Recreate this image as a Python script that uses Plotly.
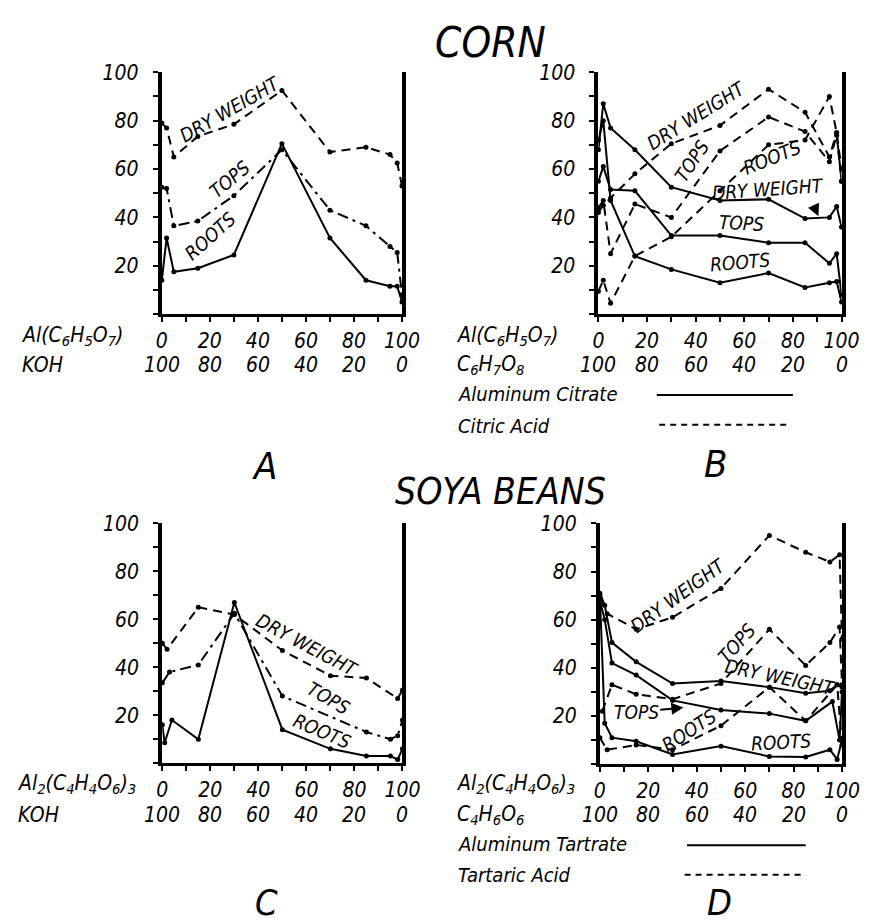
import plotly.graph_objects as go

FONT = "DejaVu Sans Condensed, DejaVu Sans, sans-serif"
W, H = 870, 923

# ---------------- data ----------------
# Panel A  (Corn, Al citrate / KOH)
A_x = [0, 2, 5, 15, 30, 50, 70, 85, 95, 98, 100]
A_dry = [79, 77, 65, 73.5, 78.5, 92.5, 67, 69, 66, 62.5, 53]
A_tops = [52.5, 52, 36.5, 38.5, 49, 68, 43, 36.5, 28, 25.5, 8]
A_roots = [14, 31.5, 17.5, 19, 24.5, 70.5, 31.5, 14, 11.5, 11.5, 5]

# Panel B  (Corn, Al citrate / citric acid)
B_x = [0, 2, 5, 15, 30, 50, 70, 85, 95, 98, 100]
B_sol_dry = [68, 87, 77, 68, 52.5, 47, 47.5, 39.5, 40, 44.5, 36]
B_sol_tops = [55, 61, 51.5, 51, 32.5, 32.5, 29.5, 29.5, 21, 25, 8]
B_sol_roots = [72, 80, 47, 24, 18.5, 13, 17, 11, 13, 13.5, 5]
B_acid_dry = [42, 45, 48, 58, 70.5, 78, 93, 83.5, 65, 75, 55]
B_acid_tops = [44, 47, 25, 45.5, 40, 67.5, 81.5, 75.5, 63, 74, 55]
B_acid_roots = [9.5, 14, 4.5, 24, 32, 51, 70, 72, 90, 75, 60]

# Panel C  (Soya beans, Al tartrate / KOH)
C_dry_x = [0, 2, 15, 30, 50, 70, 85, 98, 100]
C_dry = [50, 47.5, 65, 62, 47, 36.5, 35.5, 27, 30.5]
C_tops_x = [0, 3, 15, 30, 50, 85, 95, 98, 100]
C_tops = [33.5, 38, 41, 62.5, 28, 13, 10, 11.5, 18]
C_roots_x = [0, 1, 4, 15, 30, 50, 70, 85, 95, 98, 100]
C_roots = [16, 8.5, 18, 10, 67, 14, 6, 3, 3, 1.5, 6]

# Panel D  (Soya beans, Al tartrate / tartaric acid)
D_sol_dry_x = [0, 2, 5, 15, 30, 50, 70, 85, 95, 98, 100]
D_sol_dry = [71, 66, 50.5, 42.5, 33.5, 34.5, 32, 29.5, 30.5, 33, 32]
D_sol_tops_x = [0, 2, 5, 15, 30, 50, 70, 85, 96, 99, 100]
D_sol_tops = [68, 60, 42, 37, 26.5, 22.5, 21, 18, 26, 10, 30]
D_sol_roots_x = [0, 2, 5, 15, 30, 50, 70, 85, 95, 98, 100]
D_sol_roots = [70, 17, 11, 9.5, 4, 7.5, 3.2, 3, 6, 2, 10]
D_acid_dry_x = [0, 3, 15, 30, 50, 70, 85, 95, 99, 100]
D_acid_dry = [69, 62.5, 56, 61, 73, 95, 88, 84, 87, 52]
D_acid_tops_x = [1, 5, 15, 30, 50, 70, 85, 95, 99, 100]
D_acid_tops = [22, 33, 29, 27, 33.5, 56, 41, 50.5, 57, 33]
D_acid_roots_x = [0, 3, 15, 30, 50, 70, 85, 98, 100]
D_acid_roots = [11, 6, 8, 6, 16, 32, 18, 33, 8]

# tick labels
tick_vals = [0, 20, 40, 60, 80, 100]
row1_labels = ["0", "20", "40", "60", "80", "100"]
row2_labels = ["100", "80", "60", "40", "20", "0"]
y_tick_vals = list(range(0, 101, 10))
y_tick_text = ["", "", "20", "", "40", "", "60", "", "80", "", "100"]

# ---------------- figure ----------------
fig = go.Figure()

SOLID = "solid"
DASH = "9px,6px"
DASHDOT = "11px,5px,3px,5px"


def add_line(xs, ys, ax, dash):
    n = "" if ax == 1 else str(ax)
    fig.add_trace(go.Scatter(
        x=xs, y=ys, xaxis="x" + n, yaxis="y" + n, mode="lines+markers",
        line=dict(color="black", width=2, dash=dash),
        marker=dict(color="black", size=5), cliponaxis=False,
        hoverinfo="skip", showlegend=False))


add_line(A_x, A_dry, 1, DASH)
add_line(A_x, A_tops, 1, DASHDOT)
add_line(A_x, A_roots, 1, SOLID)

add_line(B_x, B_sol_dry, 2, SOLID)
add_line(B_x, B_sol_tops, 2, SOLID)
add_line(B_x, B_sol_roots, 2, SOLID)
add_line(B_x, B_acid_dry, 2, DASH)
add_line(B_x, B_acid_tops, 2, DASH)
add_line(B_x, B_acid_roots, 2, DASH)

add_line(C_dry_x, C_dry, 3, DASH)
add_line(C_tops_x, C_tops, 3, DASHDOT)
add_line(C_roots_x, C_roots, 3, SOLID)

add_line(D_sol_dry_x, D_sol_dry, 4, SOLID)
add_line(D_sol_tops_x, D_sol_tops, 4, SOLID)
add_line(D_sol_roots_x, D_sol_roots, 4, SOLID)
add_line(D_acid_dry_x, D_acid_dry, 4, DASH)
add_line(D_acid_tops_x, D_acid_tops, 4, DASH)
add_line(D_acid_roots_x, D_acid_roots, 4, DASH)

tickfont = dict(family=FONT, size=21, color="black", style="italic")


def xaxis(x0, x1, anchor):
    return dict(domain=[x0 / W, x1 / W], anchor=anchor, range=[0, 100],
                tickmode="array", tickvals=tick_vals, ticktext=row1_labels,
                minor=dict(tickmode="array", tickvals=list(range(10, 100, 20)),
                           ticks="outside", ticklen=5, tickwidth=2, tickcolor="black"),
                ticks="outside", ticklen=5, tickwidth=2, tickcolor="black",
                showline=True, linewidth=3, linecolor="black",
                showgrid=False, zeroline=False, tickfont=tickfont,
                ticklabelstandoff=1, fixedrange=True)


def yaxis(ytop, ybot, anchor):
    return dict(domain=[1 - ybot / H, 1 - ytop / H], anchor=anchor, range=[0, 100],
                tickmode="array", tickvals=y_tick_vals, ticktext=y_tick_text,
                ticks="outside", ticklen=5, tickwidth=2, tickcolor="black",
                showline=True, linewidth=4, linecolor="black", mirror=True,
                showgrid=False, zeroline=False, tickfont=tickfont,
                ticklabelstandoff=10, fixedrange=True)


fig.update_layout(
    width=W, height=H, margin=dict(l=0, r=0, t=0, b=0),
    paper_bgcolor="white", plot_bgcolor="white", showlegend=False,
    xaxis=xaxis(152, 399, "y"), yaxis=yaxis(53, 298, "x"),
    xaxis2=xaxis(601, 851, "y2"), yaxis2=yaxis(53, 298, "x2"),
    xaxis3=xaxis(152.5, 399.5, "y3"), yaxis3=yaxis(510, 753, "x3"),
    xaxis4=xaxis(602.5, 851.5, "y4"), yaxis4=yaxis(510, 754, "x4"),
)

ann = []


def txt(text, x, y, size, xref="paper", yref="paper", angle=0, xanchor="center"):
    if xref == "paper":
        x = x / W
    if yref == "paper":
        y = 1 - y / H
    ann.append(dict(text=text, x=x, y=y, xref=xref, yref=yref, showarrow=False,
                    textangle=angle, xanchor=xanchor, yanchor="middle",
                    font=dict(family=FONT, size=size, color="black", style="italic")))


# titles & panel letters
txt("CORN", 490, 23, 42)
txt("SOYA BEANS", 500, 478, 37)
txt("A", 258, 452, 38)
txt("B", 721, 450, 38)
txt("C", 260, 894, 36)
txt("D", 725, 894, 36)

# row labels
AL_CIT = "Al(C<sub>6</sub>H<sub>5</sub>O<sub>7</sub>)"
AL_TAR = "Al<sub>2</sub>(C<sub>4</sub>H<sub>4</sub>O<sub>6</sub>)<sub>3</sub>"
txt(AL_CIT, 6, 320, 21, xanchor="left")
txt("KOH", 6, 350, 21, xanchor="left")
txt(AL_CIT, 453, 320, 21, xanchor="left")
txt("C<sub>6</sub>H<sub>7</sub>O<sub>8</sub>", 453, 350, 21, xanchor="left")
txt(AL_TAR, 2, 774, 21, xanchor="left")
txt("KOH", 2, 805, 21, xanchor="left")
txt(AL_TAR, 453, 774, 21, xanchor="left")
txt("C<sub>4</sub>H<sub>6</sub>O<sub>6</sub>", 453, 805, 21, xanchor="left")

# second rows of x labels
for xr, yy in (("x", 350), ("x2", 350), ("x3", 805), ("x4", 805)):
    for v, lab in zip(tick_vals, row2_labels):
        txt(lab, v, yy, 21, xref=xr)

# legends in B and D
txt("Aluminum Citrate", 455, 379, 20, xanchor="left")
txt("Citric Acid", 455, 411, 20, xanchor="left")
txt("Aluminum Tartrate", 455, 835, 20, xanchor="left")
txt("Tartaric Acid", 455, 866, 20, xanchor="left")

shapes = [
    dict(type="line", xref="x2", yref="paper", x0=24, x1=80, y0=1 - 380 / H, y1=1 - 380 / H,
         line=dict(color="black", width=2)),
    dict(type="line", xref="x2", yref="paper", x0=25, x1=79, y0=1 - 410 / H, y1=1 - 410 / H,
         line=dict(color="black", width=2, dash="6px,5px")),
    dict(type="line", xref="x4", yref="paper", x0=36, x1=85, y0=1 - 836 / H, y1=1 - 836 / H,
         line=dict(color="black", width=2)),
    dict(type="line", xref="x4", yref="paper", x0=35, x1=85, y0=1 - 866 / H, y1=1 - 866 / H,
         line=dict(color="black", width=2, dash="6px,5px")),
]

# labels inside panels
LS = 19
txt("DRY WEIGHT", 28.3, 84.7, LS, "x", "y", -30)
txt("TOPS", 28.3, 55.8, LS, "x", "y", -40)
txt("ROOTS", 20, 32.3, LS, "x", "y", -42)

txt("DRY WEIGHT", 40.3, 82.5, LS, "x2", "y2", -32)
txt("TOPS", 38.3, 63.4, LS, "x2", "y2", -56)
txt("ROOTS", 71.6, 64.8, LS, "x2", "y2", -22)
txt("DRY WEIGHT", 69.6, 51.8, LS, "x2", "y2", -4)
txt("TOPS", 59, 37.8, LS, "x2", "y2", 3)
txt("ROOTS", 58.3, 21.6, LS, "x2", "y2", -5)

txt("DRY WEIGHT", 60.4, 49.1, LS, "x3", "y3", 28)
txt("TOPS", 69.2, 27.1, LS, "x3", "y3", 30)
txt("ROOTS", 66.5, 13.4, LS, "x3", "y3", 23)

txt("DRY WEIGHT", 32.4, 70.2, LS, "x4", "y4", -36)
txt("TOPS", 56.5, 50.3, LS, "x4", "y4", -48)
txt("DRY WEIGHT", 74.5, 36, LS, "x4", "y4", 12)
txt("ROOTS", 37, 14.1, LS, "x4", "y4", -33)
txt("ROOTS", 74.6, 9.3, LS, "x4", "y4", -3)

# arrows
ann.append(dict(text="", x=90.5, y=40.5, xref="x2", yref="y2", ax=88.3, ay=45.5,
                axref="x2", ayref="y2", showarrow=True, arrowhead=2, arrowsize=1.2,
                arrowwidth=2, arrowcolor="black"))
ann.append(dict(text="TOPS", x=34.5, y=23.5, xref="x4", yref="y4", ax=15, ay=21.6,
                axref="x4", ayref="y4", showarrow=True, arrowhead=2, arrowsize=1.2,
                arrowwidth=2, arrowcolor="black",
                font=dict(family=FONT, size=LS, color="black", style="italic")))

fig.update_layout(annotations=ann, shapes=shapes)
fig.write_html("out.html")
